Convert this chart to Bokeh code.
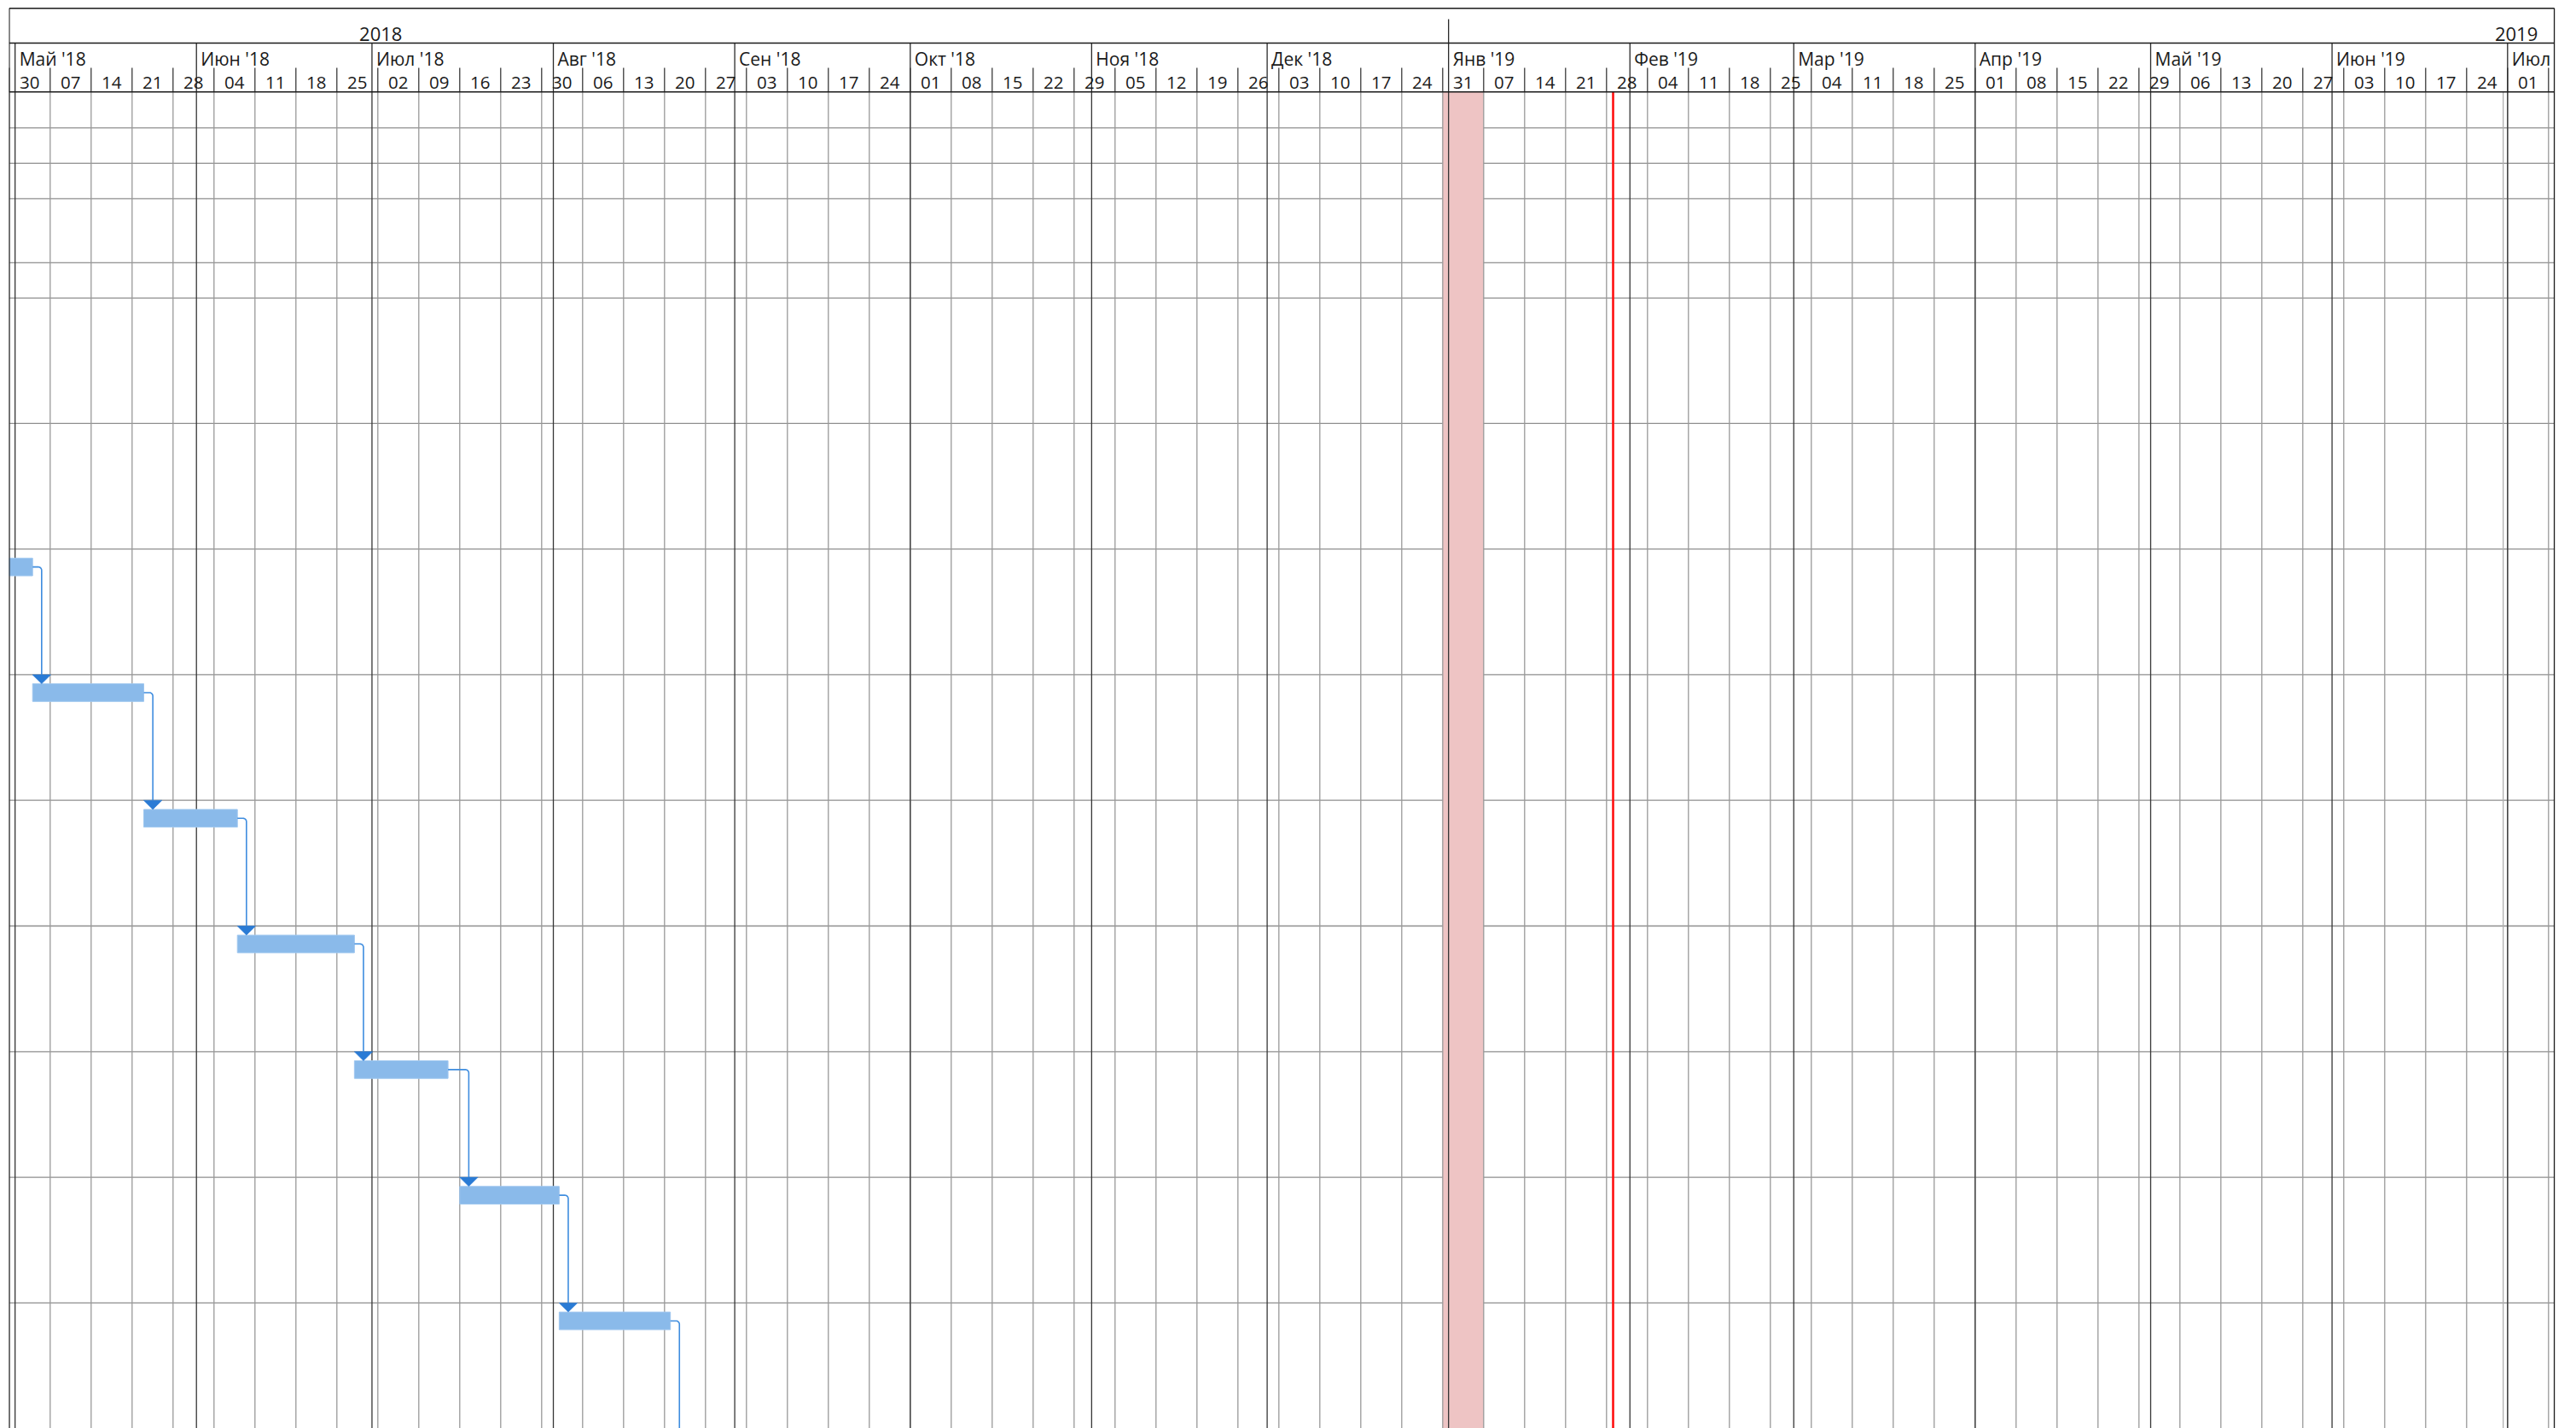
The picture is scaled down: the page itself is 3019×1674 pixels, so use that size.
import numpy as np
from bokeh.plotting import figure
from bokeh.models import Range1d
from bokeh.embed import file_html
from bokeh.resources import INLINE
from bokeh.core.properties import value

# ---------------- data ----------------
RU_MONTHS = ["Янв", "Фев", "Мар", "Апр", "Май", "Июн", "Июл", "Авг", "Сен", "Окт", "Ноя", "Дек"]
YEARS = [2018, 2019]
VIEW_START = "2018-04-30"
VIEW_END = "2019-07-09"

TASK_ROW = [7, 8, 9, 10, 11, 12, 13, 14]
TASK_START = ["2018-04-23", "2018-05-04", "2018-05-23", "2018-06-08",
              "2018-06-28", "2018-07-16", "2018-08-02", "2018-08-21"]
TASK_FINISH = ["2018-05-04", "2018-05-23", "2018-06-08", "2018-06-28",
               "2018-07-14", "2018-08-02", "2018-08-21", "2018-09-10"]
LINK_FROM = [0, 1, 2, 3, 4, 5, 6]
LINK_TO = [1, 2, 3, 4, 5, 6, 7]

NONWORK_START = "2018-12-31"
NONWORK_END = "2019-01-07"
CURRENT_DATE = "2019-01-29T03:00"
PROJECT_FINISH = "2019-06-30T06:00"

# row heights (px) of the task sheet rows
ROW_HEIGHTS = [42.0, 41.5, 41.5, 75.0, 41.5, 147.0, 147.3, 147.3, 147.3,
               147.3, 147.3, 147.3, 147.3, 147.3, 147.3]

# ---------------- layout ----------------
DAY_MS = 86_400_000
PX_PER_DAY = 48 / 7
LEFT, TOP = 10, 8
FRAME_W = 2984
FRAME_H = 1666
W, H = LEFT + FRAME_W + 2, TOP + FRAME_H

TOP_Y = 1.3
YEAR_DIV_TOP = 14.0
YEAR_SEP_Y = 42.0
WEEK_TICK_TOP = 71.0
HEADER_BOTTOM = 99.3
TEXT_SHIFT = 8.5
YEAR_BASE = 40.3 - TEXT_SHIFT
MONTH_BASE = 68.7 - TEXT_SHIFT
WEEK_BASE = 97.0 - TEXT_SHIFT
BAR_OFF = 10.7
BAR_H = 20.7
LINK_OFF = 10.6
TRI_HALF = 10.8
CORNER_R = 4.0


def ms(s):
    return float(np.datetime64(s, "ms").astype("int64"))


def px(n):
    return n / PX_PER_DAY * DAY_MS


v0 = ms(VIEW_START)
v1 = ms(VIEW_END)
R0 = v0 - px(0.3)
R1 = R0 + px(FRAME_W)

p = figure(width=W, height=H, x_range=Range1d(R0, R1), y_range=Range1d(FRAME_H, 0),
           toolbar_location=None, output_backend="svg", tools="",
           x_axis_location=None, y_axis_location=None,
           min_border=0, min_border_left=LEFT, min_border_right=2,
           min_border_top=TOP, min_border_bottom=0,
           outline_line_color=None, background_fill_color="white",
           border_fill_color="white")
p.grid.visible = False

FONT = value("Open Sans")

# timescale units
weeks = []
d = np.datetime64(VIEW_START, "D")
while ms(str(d)) + px(12) < v1:
    weeks.append(d)
    d = d + np.timedelta64(7, "D")
week_x = [ms(str(w)) for w in weeks]
week_labels = [str(w)[8:10] for w in weeks]
week_lines = week_x + [ms(str(d))] if ms(str(d)) < v1 else week_x

m0 = np.datetime64(VIEW_START, "M") + np.timedelta64(1, "M")
m1 = np.datetime64(VIEW_END, "M")
months = np.arange(m0, m1 + np.timedelta64(1, "M"))
month_x = [ms(str(m.astype("datetime64[D]"))) for m in months]
month_labels = []
for m, mx in zip(months, month_x):
    name = RU_MONTHS[int(str(m)[5:7]) - 1]
    full = f"{name} '{str(m)[2:4]}"
    # the label is cut at the right edge of the timescale
    month_labels.append(full if mx + px(85) < v1 else name)

year_centers = [(ms(f"{y}-01-01") + ms(f"{y + 1}-01-01")) / 2 for y in YEARS]
year_labels = [str(y) for y in YEARS]
year_divs = [ms(f"{y}-01-01") for y in YEARS if v0 < ms(f"{y}-01-01") < v1]

# row boundaries
row_tops = [HEADER_BOTTOM]
for h in ROW_HEIGHTS:
    row_tops.append(row_tops[-1] + h)

# ---------------- body ----------------
hl = row_tops[1:]
p.segment(x0=[v0] * len(hl), x1=[v1] * len(hl), y0=hl, y1=hl,
          line_color="#8e8e8e", line_width=1.3)

p.quad(left=[ms(NONWORK_START)], right=[ms(NONWORK_END)],
       top=[HEADER_BOTTOM], bottom=[FRAME_H], fill_color="#eec4c4", line_color=None)

p.segment(x0=week_lines, x1=week_lines, y0=[HEADER_BOTTOM] * len(week_lines),
          y1=[FRAME_H] * len(week_lines), line_color="#999999", line_width=1.3)
p.segment(x0=[ms(PROJECT_FINISH)], x1=[ms(PROJECT_FINISH)], y0=[HEADER_BOTTOM], y1=[FRAME_H],
          line_color="#b0b0b0", line_width=1.3)
p.segment(x0=month_x, x1=month_x, y0=[HEADER_BOTTOM] * len(month_x), y1=[FRAME_H] * len(month_x),
          line_color="#363636", line_width=1.3)

bar_left = [max(ms(s), v0) for s in TASK_START]
bar_right = [ms(f) for f in TASK_FINISH]
bar_top = [row_tops[r] + BAR_OFF for r in TASK_ROW]
bar_bot = [t + BAR_H for t in bar_top]
p.quad(left=bar_left, right=bar_right, top=bar_top, bottom=bar_bot,
       fill_color="#8abaea", line_color="#9fc7ef", line_width=1)

xs, ys, txs, tys = [], [], [], []
for a, b in zip(LINK_FROM, LINK_TO):
    x_end = ms(TASK_FINISH[a])
    y_mid = bar_top[a] + BAR_H / 2
    x_c = ms(TASK_START[b]) + px(LINK_OFF)
    y_tri = row_tops[TASK_ROW[b]]
    lx = [x_end, x_c - px(CORNER_R)]
    ly = [y_mid, y_mid]
    for th in np.linspace(0, np.pi / 2, 8)[1:]:
        lx.append(x_c - px(CORNER_R) + px(CORNER_R * np.sin(th)))
        ly.append(y_mid + CORNER_R - CORNER_R * np.cos(th))
    lx.append(x_c)
    ly.append(y_tri)
    xs.append(lx)
    ys.append(ly)
    txs.append([x_c - px(TRI_HALF), x_c + px(TRI_HALF), x_c])
    tys.append([y_tri, y_tri, bar_top[b]])
p.multi_line(xs, ys, line_color="#3f8ddf", line_width=1.6)
p.patches(txs, tys, fill_color="#2a7bd5", line_color="#2a7bd5", line_width=0.5)

p.segment(x0=[ms(CURRENT_DATE)], x1=[ms(CURRENT_DATE)], y0=[HEADER_BOTTOM], y1=[FRAME_H],
          line_color="#ff1010", line_width=2.6)

# ---------------- header ----------------
p.segment(x0=week_lines, x1=week_lines, y0=[WEEK_TICK_TOP] * len(week_lines),
          y1=[HEADER_BOTTOM] * len(week_lines), line_color="#2a2a2a", line_width=1.2)
p.segment(x0=month_x, x1=month_x, y0=[YEAR_SEP_Y] * len(month_x), y1=[HEADER_BOTTOM] * len(month_x),
          line_color="#2a2a2a", line_width=1.3)
p.segment(x0=year_divs, x1=year_divs, y0=[YEAR_DIV_TOP] * len(year_divs), y1=[YEAR_SEP_Y] * len(year_divs),
          line_color="#2a2a2a", line_width=1.3)
hy = [TOP_Y, YEAR_SEP_Y, HEADER_BOTTOM]
p.segment(x0=[v0] * 3, x1=[v1] * 3, y0=hy, y1=hy, line_color="#1a1a1a", line_width=1.6)
p.segment(x0=[v0, v1], x1=[v0, v1], y0=[TOP_Y, TOP_Y], y1=[FRAME_H, FRAME_H],
          line_color="#1a1a1a", line_width=1.5)

p.text(x=year_centers, y=[YEAR_BASE] * len(year_centers), text=year_labels,
       text_font=FONT, text_font_size="22px", text_align="center",
       text_baseline="alphabetic", text_color="#1a1a1a")
p.text(x=[x + px(5) for x in month_x], y=[MONTH_BASE] * len(month_x), text=month_labels,
       text_font=FONT, text_font_size="21px", text_align="left",
       text_baseline="alphabetic", text_color="#1a1a1a")
p.text(x=[x + px(24) for x in week_x], y=[WEEK_BASE] * len(week_x), text=week_labels,
       text_font=FONT, text_font_size="20.5px", text_align="center",
       text_baseline="alphabetic", text_color="#1a1a1a")

open("out.html", "w").write(file_html(p, INLINE))
